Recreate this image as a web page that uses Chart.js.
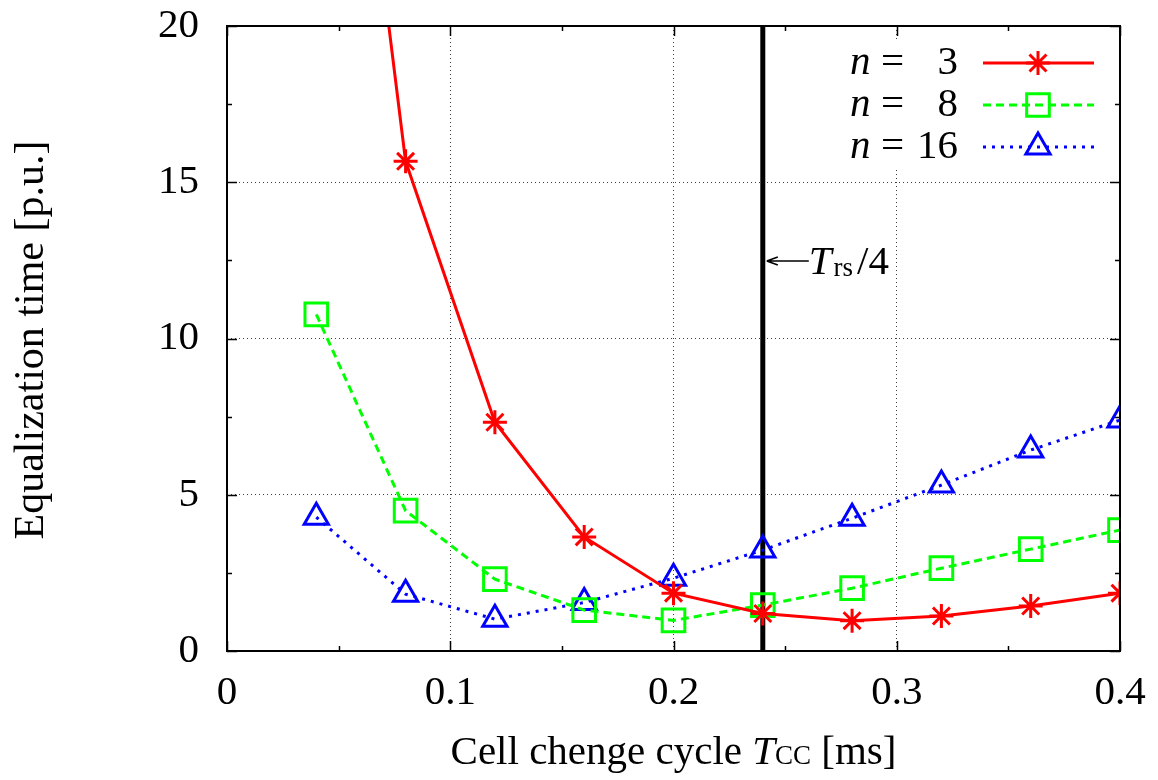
<!DOCTYPE html>
<html>
<head>
<meta charset="utf-8">
<script src="https://cdn.jsdelivr.net/npm/chart.js@4/dist/chart.umd.min.js"></script>
<style>
  html, body { margin: 0; padding: 0; background: #fff; }
  #wrap { width: 1158px; height: 780px; }
</style>
</head>
<body>
<div id="wrap"><canvas id="eqChart" width="1158" height="780"></canvas></div>
<script>
// cell change cycle Tcc [ms]
const cycles = [0.04, 0.08, 0.12, 0.16, 0.20, 0.24, 0.28, 0.32, 0.36, 0.40];

// equalization time [p.u.] per number of cells
const n3  = [38.7, 15.67, 7.32, 3.65, 1.85, 1.20, 0.97, 1.12, 1.44, 1.85];
const n8  = [10.77, 4.49, 2.30, 1.31, 0.98, 1.47, 2.01, 2.65, 3.26, 3.87];
const n16 = [4.28, 1.82, 1.02, 1.55, 2.33, 3.23, 4.25, 5.31, 6.43, 7.39];

const seriesNames = ["3", "8", "16"];
const trsQuarter = 0.24;   // Trs/4 marker line

const xTicks = [0, 0.1, 0.2, 0.3, 0.4];
const yTicks = [0, 5, 10, 15, 20];

const FONT = "'Liberation Serif', 'Times New Roman', serif";

function pts(vals) {
    return cycles.map(function (c, i) { return { x: c, y: vals[i] }; });
}

const frameAndText = {
    id: "frameAndText",
    beforeDatasetsDraw: function (chart) {
        const ctx = chart.ctx, a = chart.chartArea;
        const x = chart.scales.x.getPixelForValue(trsQuarter);
        ctx.save();
        ctx.strokeStyle = "#000";
        ctx.lineWidth = 5;
        ctx.beginPath();
        ctx.moveTo(x, a.top);
        ctx.lineTo(x, a.bottom);
        ctx.stroke();
        ctx.restore();
    },
    afterDatasetsDraw: function (chart) {
        const ctx = chart.ctx, a = chart.chartArea;
        const xs = chart.scales.x, ys = chart.scales.y;
        ctx.save();

        // frame
        ctx.strokeStyle = "#000";
        ctx.lineWidth = 2;
        ctx.strokeRect(a.left, a.top, a.right - a.left, a.bottom - a.top);

        // inward ticks, major + minor, on all four sides
        ctx.lineWidth = 1.5;
        ctx.beginPath();
        for (let v = 0; v <= 0.4001; v += 0.05) {
            const px = Math.round(xs.getPixelForValue(v)) + 0.5;
            const len = (Math.round(v * 100) % 10 === 0) ? 10 : 5;
            ctx.moveTo(px, a.bottom); ctx.lineTo(px, a.bottom - len);
            ctx.moveTo(px, a.top); ctx.lineTo(px, a.top + len);
        }
        for (let v = 0; v <= 20.001; v += 2.5) {
            const py = Math.round(ys.getPixelForValue(v)) + 0.5;
            const len = (Math.round(v * 10) % 50 === 0) ? 10 : 5;
            ctx.moveTo(a.left, py); ctx.lineTo(a.left + len, py);
            ctx.moveTo(a.right, py); ctx.lineTo(a.right - len, py);
        }
        ctx.stroke();

        // Trs/4 annotation
        const lx = xs.getPixelForValue(trsQuarter);
        const ay = 261;
        ctx.lineWidth = 1.5;
        ctx.beginPath();
        ctx.moveTo(lx + 4, ay); ctx.lineTo(lx + 46, ay);
        ctx.moveTo(lx + 4, ay); ctx.lineTo(lx + 15, ay - 4);
        ctx.moveTo(lx + 4, ay); ctx.lineTo(lx + 15, ay + 4);
        ctx.stroke();
        ctx.fillStyle = "#000";
        ctx.textBaseline = "alphabetic";
        ctx.textAlign = "left";
        let tx = lx + 46;
        const by = 274;
        ctx.font = "italic 41px " + FONT;
        ctx.fillText("T", tx, by);
        tx += ctx.measureText("T").width + 2;
        ctx.font = "27px " + FONT;
        ctx.fillText("rs", tx, by + 2);
        tx += ctx.measureText("rs").width + 4;
        ctx.font = "41px " + FONT;
        ctx.fillText("/4", tx, by);

        // legend
        ctx.fillStyle = "#fff";
        ctx.fillRect(828, 40, 280, 130);
        const rows = [63, 105, 147];
        chart.data.datasets.forEach(function (ds, i) {
            const y = rows[i];
            ctx.fillStyle = "#000";
            ctx.textBaseline = "middle";
            ctx.font = "italic 41px " + FONT;
            ctx.textAlign = "left";
            ctx.fillText("n", 850, y);
            ctx.font = "41px " + FONT;
            ctx.fillText("=", 881, y);
            ctx.textAlign = "right";
            ctx.fillText(seriesNames[i], 958, y);

            ctx.save();
            ctx.strokeStyle = ds.borderColor;
            ctx.lineWidth = ds.borderWidth;
            ctx.setLineDash(ds.borderDash || []);
            ctx.beginPath();
            ctx.moveTo(983, y); ctx.lineTo(1094, y);
            ctx.stroke();
            ctx.setLineDash([]);
            ctx.fillStyle = "rgba(0,0,0,0)";
            ctx.lineWidth = ds.pointBorderWidth;
            if (Chart.helpers && Chart.helpers.drawPoint) {
                Chart.helpers.drawPoint(ctx, {
                    pointStyle: ds.pointStyle,
                    radius: ds.pointRadius,
                    rotation: 0,
                    borderWidth: ds.pointBorderWidth
                }, 1038, y);
            }
            ctx.restore();
        });

        // axis titles
        ctx.fillStyle = "#000";
        ctx.textBaseline = "alphabetic";
        ctx.textAlign = "left";
        const parts = [
            ["Cell chenge cycle ", "41px ", 0],
            ["T", "italic 41px ", 0],
            ["CC", "27px ", 0],
            [" [ms]", "41px ", 0]
        ];
        let total = 0;
        parts.forEach(function (p) { ctx.font = p[1] + FONT; total += ctx.measureText(p[0]).width; });
        let cx = (a.left + a.right) / 2 - total / 2;
        parts.forEach(function (p) {
            ctx.font = p[1] + FONT;
            ctx.fillText(p[0], cx, 764 + p[2]);
            cx += ctx.measureText(p[0]).width;
        });

        ctx.translate(43, 340);
        ctx.rotate(-Math.PI / 2);
        ctx.textAlign = "center";
        ctx.font = "42px " + FONT;
        ctx.fillText("Equalization time [p.u.]", 0, 0);
        ctx.restore();
    }
};

const canvas = document.getElementById("eqChart");

new Chart(canvas, {
    type: "line",
    data: {
        datasets: [{
            label: "n = 3",
            data: pts(n3),
            borderColor: "#ff0000",
            backgroundColor: "#ff0000",
            borderWidth: 3,
            pointStyle: "star",
            pointRadius: 12,
            pointBorderWidth: 3,
            pointBorderColor: "#ff0000"
        }, {
            label: "n = 8",
            data: pts(n8),
            borderColor: "#00ff00",
            backgroundColor: "rgba(0,0,0,0)",
            borderWidth: 3,
            borderDash: [8, 5],
            pointStyle: "rect",
            pointRadius: 16,
            pointBorderWidth: 3,
            pointBorderColor: "#00ff00"
        }, {
            label: "n = 16",
            data: pts(n16),
            borderColor: "#0000ff",
            backgroundColor: "rgba(0,0,0,0)",
            borderWidth: 3,
            borderDash: [3, 6],
            pointStyle: "triangle",
            pointRadius: 14,
            pointBorderWidth: 3,
            pointBorderColor: "#0000ff"
        }]
    },
    options: {
        responsive: false,
        animation: false,
        layout: { padding: { top: 26, right: 38, left: 0, bottom: 0 } },
        plugins: {
            legend: { display: false },
            tooltip: { enabled: false }
        },
        elements: { line: { tension: 0 } },
        scales: {
            x: {
                type: "linear",
                min: 0,
                max: 0.4,
                afterBuildTicks: function (s) { s.ticks = xTicks.map(function (v) { return { value: v }; }); },
                afterFit: function (s) {
                    s.height = 129;
                    s.paddingLeft = 0; s.paddingRight = 0;
                },
                ticks: {
                    color: "#000",
                    font: { family: FONT, size: 41 },
                    padding: 18,
                    maxRotation: 0,
                    callback: function (v) { return String(+v.toFixed(1)); }
                },
                grid: { color: "rgba(0,0,0,0.75)", lineWidth: 1, drawTicks: false },
                border: { display: false, dash: [1, 3] }
            },
            y: {
                min: 0,
                max: 20,
                afterBuildTicks: function (s) { s.ticks = yTicks.map(function (v) { return { value: v }; }); },
                afterFit: function (s) {
                    s.width = 227;
                    s.paddingTop = 0; s.paddingBottom = 0;
                },
                ticks: {
                    color: "#000",
                    font: { family: FONT, size: 41 },
                    padding: 28
                },
                grid: { color: "rgba(0,0,0,0.75)", lineWidth: 1, drawTicks: false },
                border: { display: false, dash: [1, 3] }
            }
        }
    },
    plugins: [frameAndText]
});
</script>
</body>
</html>
